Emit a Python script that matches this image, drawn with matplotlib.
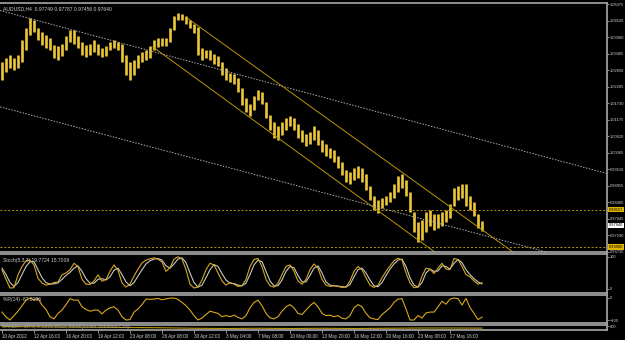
import matplotlib.pyplot as plt

# AUDUSD H4, one sample = 2 bars
title_text = "AUDUSD,H4  0.97749 0.97787 0.97456 0.97640"
time_labels = ["10 Apr 2012", "12 Apr 16:00", "16 Apr 20:00", "19 Apr 12:00", "23 Apr 08:00",
               "26 Apr 08:00", "30 Apr 12:00", "3 May 04:00", "7 May 08:00", "10 May 00:00",
               "13 May 20:00", "16 May 12:00", "20 May 16:00", "23 May 08:00", "27 May 16:00"]

bar_high = [1.0313, 1.0326, 1.0336, 1.0326, 1.0336, 1.0387, 1.0427, 1.0461, 1.0454, 1.0427,
            1.0413, 1.0403, 1.0393, 1.0370, 1.0366, 1.0373, 1.0400, 1.0420, 1.0420, 1.0400,
            1.0380, 1.0370, 1.0373, 1.0387, 1.0373, 1.0360, 1.0366, 1.0380, 1.0387, 1.0380,
            1.0373, 1.0336, 1.0313, 1.0319, 1.0336, 1.0346, 1.0353, 1.0366, 1.0387, 1.0393,
            1.0393, 1.0393, 1.0427, 1.0467, 1.0477, 1.0474, 1.0467, 1.0454, 1.0440, 1.0430,
            1.0360, 1.0353, 1.0353, 1.0340, 1.0333, 1.0313, 1.0292, 1.0276, 1.0272, 1.0259,
            1.0225, 1.0192, 1.0172, 1.0198, 1.0219, 1.0212, 1.0178, 1.0135, 1.0111, 1.0098,
            1.0111, 1.0125, 1.0131, 1.0125, 1.0104, 1.0084, 1.0071, 1.0077, 1.0098, 1.0084,
            1.0050, 1.0037, 1.0024, 1.0017, 0.9997, 0.9977, 0.9950, 0.9943, 0.9956, 0.9963,
            0.9956, 0.9936, 0.9896, 0.9862, 0.9849, 0.9856, 0.9862, 0.9876, 0.9903, 0.9930,
            0.9936, 0.9916, 0.9876, 0.9809, 0.9775, 0.9782, 0.9809, 0.9815, 0.9802, 0.9802,
            0.9809, 0.9815, 0.9836, 0.9889, 0.9896, 0.9903, 0.9903, 0.9862, 0.9842, 0.9802,
            0.97787]
bar_low = [1.0252, 1.0279, 1.0292, 1.0286, 1.0292, 1.0313, 1.0353, 1.0403, 1.0413, 1.0387,
           1.0370, 1.0360, 1.0353, 1.0326, 1.0319, 1.0333, 1.0353, 1.0380, 1.0373, 1.0360,
           1.0336, 1.0329, 1.0336, 1.0346, 1.0336, 1.0329, 1.0333, 1.0353, 1.0360, 1.0353,
           1.0313, 1.0269, 1.0252, 1.0269, 1.0292, 1.0313, 1.0319, 1.0326, 1.0353, 1.0363,
           1.0366, 1.0366, 1.0380, 1.0420, 1.0454, 1.0454, 1.0440, 1.0427, 1.0410, 1.0336,
           1.0319, 1.0326, 1.0319, 1.0306, 1.0299, 1.0269, 1.0252, 1.0245, 1.0239, 1.0212,
           1.0168, 1.0145, 1.0131, 1.0151, 1.0185, 1.0172, 1.0125, 1.0084, 1.0057, 1.0050,
           1.0067, 1.0084, 1.0098, 1.0084, 1.0057, 1.0044, 1.0030, 1.0037, 1.0050, 1.0034,
           1.0010, 0.9997, 0.9990, 0.9977, 0.9956, 0.9933, 0.9909, 0.9903, 0.9916, 0.9923,
           0.9909, 0.9883, 0.9849, 0.9815, 0.9805, 0.9822, 0.9832, 0.9842, 0.9856, 0.9876,
           0.9889, 0.9862, 0.9809, 0.9741, 0.9708, 0.9715, 0.9741, 0.9762, 0.9748, 0.9755,
           0.9762, 0.9775, 0.9789, 0.9829, 0.9849, 0.9856, 0.9829, 0.9815, 0.9795, 0.9755,
           0.97456]

stoch_main = [59, 30, 3, 4, 44, 70, 88, 90, 75, 33, 19, 12, 15, 20, 22, 44, 50, 60, 80, 70,
              30, 15, 14, 25, 44, 24, 30, 55, 75, 58, 19, 6, 15, 40, 62, 81, 90, 94, 97, 93,
              84, 55, 66, 93, 100, 93, 60, 15, 3, 6, 28, 60, 80, 75, 50, 25, 12, 20, 15, 8,
              10, 30, 70, 92, 95, 70, 30, 10, 6, 18, 45, 70, 75, 55, 25, 15, 30, 60, 78, 65,
              30, 12, 8, 10, 8, 5, 6, 25, 55, 70, 60, 35, 12, 5, 12, 35, 55, 72, 88, 96,
              90, 50, 19, 4, 6, 40, 65, 62, 48, 65, 80, 62, 60, 95, 92, 70, 45, 38, 25, 15,
              19.7724]
stoch_signal = [65, 45, 20, 8, 20, 45, 70, 85, 85, 60, 35, 20, 15, 16, 19, 30, 42, 52, 65, 72,
                55, 32, 18, 18, 30, 32, 28, 38, 58, 65, 45, 22, 10, 20, 40, 60, 78, 88, 93, 95,
                90, 72, 65, 78, 93, 97, 82, 50, 20, 6, 12, 35, 60, 76, 70, 48, 28, 18, 17, 12,
                10, 18, 45, 75, 90, 85, 55, 25, 10, 10, 28, 55, 70, 66, 42, 22, 22, 42, 65, 72,
                50, 22, 12, 10, 9, 7, 6, 14, 38, 60, 65, 50, 28, 10, 7, 20, 42, 62, 78, 90,
                93, 70, 35, 12, 6, 20, 50, 62, 55, 56, 72, 70, 62, 80, 92, 82, 60, 45, 32, 22,
                15.7009]
wpr_values = [-64, -86, -100, -80, -60, -35, -10, 0, -9, -2, -32, -52, -85, -95, -70, -55, -30, -3, -10, -9,
              -40, -52, -60, -55, -55, -72, -55, -45, -40, -55, -85, -100, -98, -64, -50, -30, -5, -6, -5, -2,
              -8, -4, -1, 0, -6, -20, -35, -55, -80, -100, -91, -75, -60, -65, -70, -85, -80, -85, -78, -88,
              -95, -80, -45, -20, -10, -35, -70, -90, -95, -85, -60, -40, -30, -45, -70, -75, -55, -35, -20, -40,
              -70, -80, -78, -85, -80, -92, -95, -80, -45, -30, -40, -70, -90, -95, -98, -75, -60, -45, -20, -5,
              -3, -50, -100, -100, -80, -91, -68, -64, -64, -40, -15, -28, -5, 0, -3, -32, -2, -43, -70, -98,
              -87.0196]
panel3_values = [700, 650, 600, 550, 500, 450, 350, 300, 350, 300, 350, 300, 350, 400, 400, 380]

price_ticks = [1.05075, 1.04520, 1.03960, 1.03405, 1.02850, 1.02285, 1.01730, 1.01175,
               1.00620, 1.00065, 0.99510, 0.98955, 0.98400, 0.97845, 0.97290, 0.96735]
level_lines = [0.98157, 0.96905]
last_price = 0.97640

# trend lines: (sample, price) anchor points
white_upper = [(0, 1.0484), (150, 0.9942)]
white_lower = [(0, 1.0160), (120, 0.9731)]
channel_upper = [(46.25, 1.0461), (126.25, 0.9688)]
channel_lower = [(37.75, 1.0363), (107.0, 0.9685)]

GOLD = '#ecc838'
SEP = '#a8a8a8'
TXT = '#d0d0d0'
FONT = 'Liberation Sans'
W, H = 625, 340

plt.rcParams['font.family'] = FONT
fig = plt.figure(figsize=(6.25, 3.4), dpi=100, facecolor='black')


def box(y0, y1):
    return [0, 1 - y1 / H, 607 / W, (y1 - y0) / H]


def style(ax):
    ax.set_facecolor('black')
    ax.spines['left'].set_visible(False)
    for s in ['top', 'bottom', 'right']:
        ax.spines[s].set_color(SEP)
        ax.spines[s].set_linewidth(1.2)
    ax.yaxis.tick_right()
    ax.tick_params(axis='y', colors=TXT, labelsize=2.9, length=1.5, width=0.5, pad=0.5)
    ax.tick_params(axis='x', bottom=False, labelbottom=False)
    ax.set_xlim(-0.5, 151.25)


ax = fig.add_axes(box(3, 252))
ax_st = fig.add_axes(box(254, 293))
ax_r = fig.add_axes(box(295, 323))
ax_3 = fig.add_axes(box(325, 330))
for a in [ax, ax_st, ax_r, ax_3]:
    style(a)

idx = list(range(len(bar_high)))

# price bars
ax.vlines(idx, bar_low, bar_high, color=GOLD, linewidth=1.9)
ax.set_ylim(0.9674, 1.0511)
ax.set_yticks(price_ticks)
ax.set_yticklabels(['%.5f' % p for p in price_ticks])

for p in level_lines:
    ax.axhline(p, color='#b8960a', linestyle=(0, (2, 2)), linewidth=0.7)
ax.axline(white_upper[0], white_upper[1], color='#b0b0b0', linestyle=(0, (1.5, 1.5)), linewidth=0.7)
ax.axline(white_lower[0], white_lower[1], color='#b0b0b0', linestyle=(0, (1.5, 1.5)), linewidth=0.7)
for (s0, p0), (s1, p1) in [channel_upper, channel_lower]:
    k = (p1 - p0) / (s1 - s0)
    ax.plot([s0, 160], [p0, p0 + k * (160 - s0)], color='#b8960a', linewidth=0.7)

lbl = dict(transform=ax.get_yaxis_transform(), ha='left', va='center', fontsize=2.9, clip_on=False)
ax.text(1.003, level_lines[0], '%.5f' % level_lines[0], color='black',
        bbox=dict(facecolor='#e0b400', edgecolor='none', pad=0.4), **lbl)
ax.text(1.003, level_lines[1], '%.5f' % level_lines[1], color='black',
        bbox=dict(facecolor='#e0b400', edgecolor='none', pad=0.4), **lbl)
ax.text(1.003, last_price, '%.5f' % last_price, color='black',
        bbox=dict(facecolor='white', edgecolor='none', pad=0.4), **lbl)

ax.text(0.005, 0.985, title_text, transform=ax.transAxes, color=TXT, fontsize=3.6, va='top')

# stochastic
ax_st.plot(idx, stoch_signal, color='#c8c8c8', linewidth=0.8)
ax_st.plot(idx, stoch_main, color='#d8a820', linewidth=0.8)
ax_st.set_ylim(-12.5, 109)
ax_st.set_yticks([100, 0])
ax_st.text(0.005, 0.9, "Stoch(5,3,3) 19.7724 15.7009", transform=ax_st.transAxes,
           color=TXT, fontsize=3.6, va='top')

# williams %R
ax_r.plot(idx, wpr_values, color='#d8a820', linewidth=0.8)
ax_r.set_ylim(-113.6, 13.6)
ax_r.set_yticks([0, -100])
ax_r.text(0.005, 0.92, "%R(14) -87.0196", transform=ax_r.transAxes,
          color=TXT, fontsize=3.6, va='top')

# third window
ax_3.plot(list(range(0, 121, 8)), panel3_values, color='#b8960a', linewidth=0.8)
ax_3.set_ylim(0, 1000)
ax_3.set_yticks([800])
fig.text(2 / W, 1 - 326 / H, "OANDA - MT4, \u00a9 2001-2012, MetaQuotes Software Corp.",
         color='#a0a0a0', fontsize=3.6, va='center')

# time axis
ax_3.set_xticks(list(range(0, 8 * len(time_labels), 8)))
ax_3.set_xticklabels(time_labels)
ax_3.tick_params(axis='x', bottom=True, labelbottom=True, colors=TXT, labelsize=3.3,
                 length=2, width=0.5, pad=1)
for t in ax_3.get_xticklabels():
    t.set_ha('left')

fig.savefig('out.png', dpi=100, facecolor='black')
